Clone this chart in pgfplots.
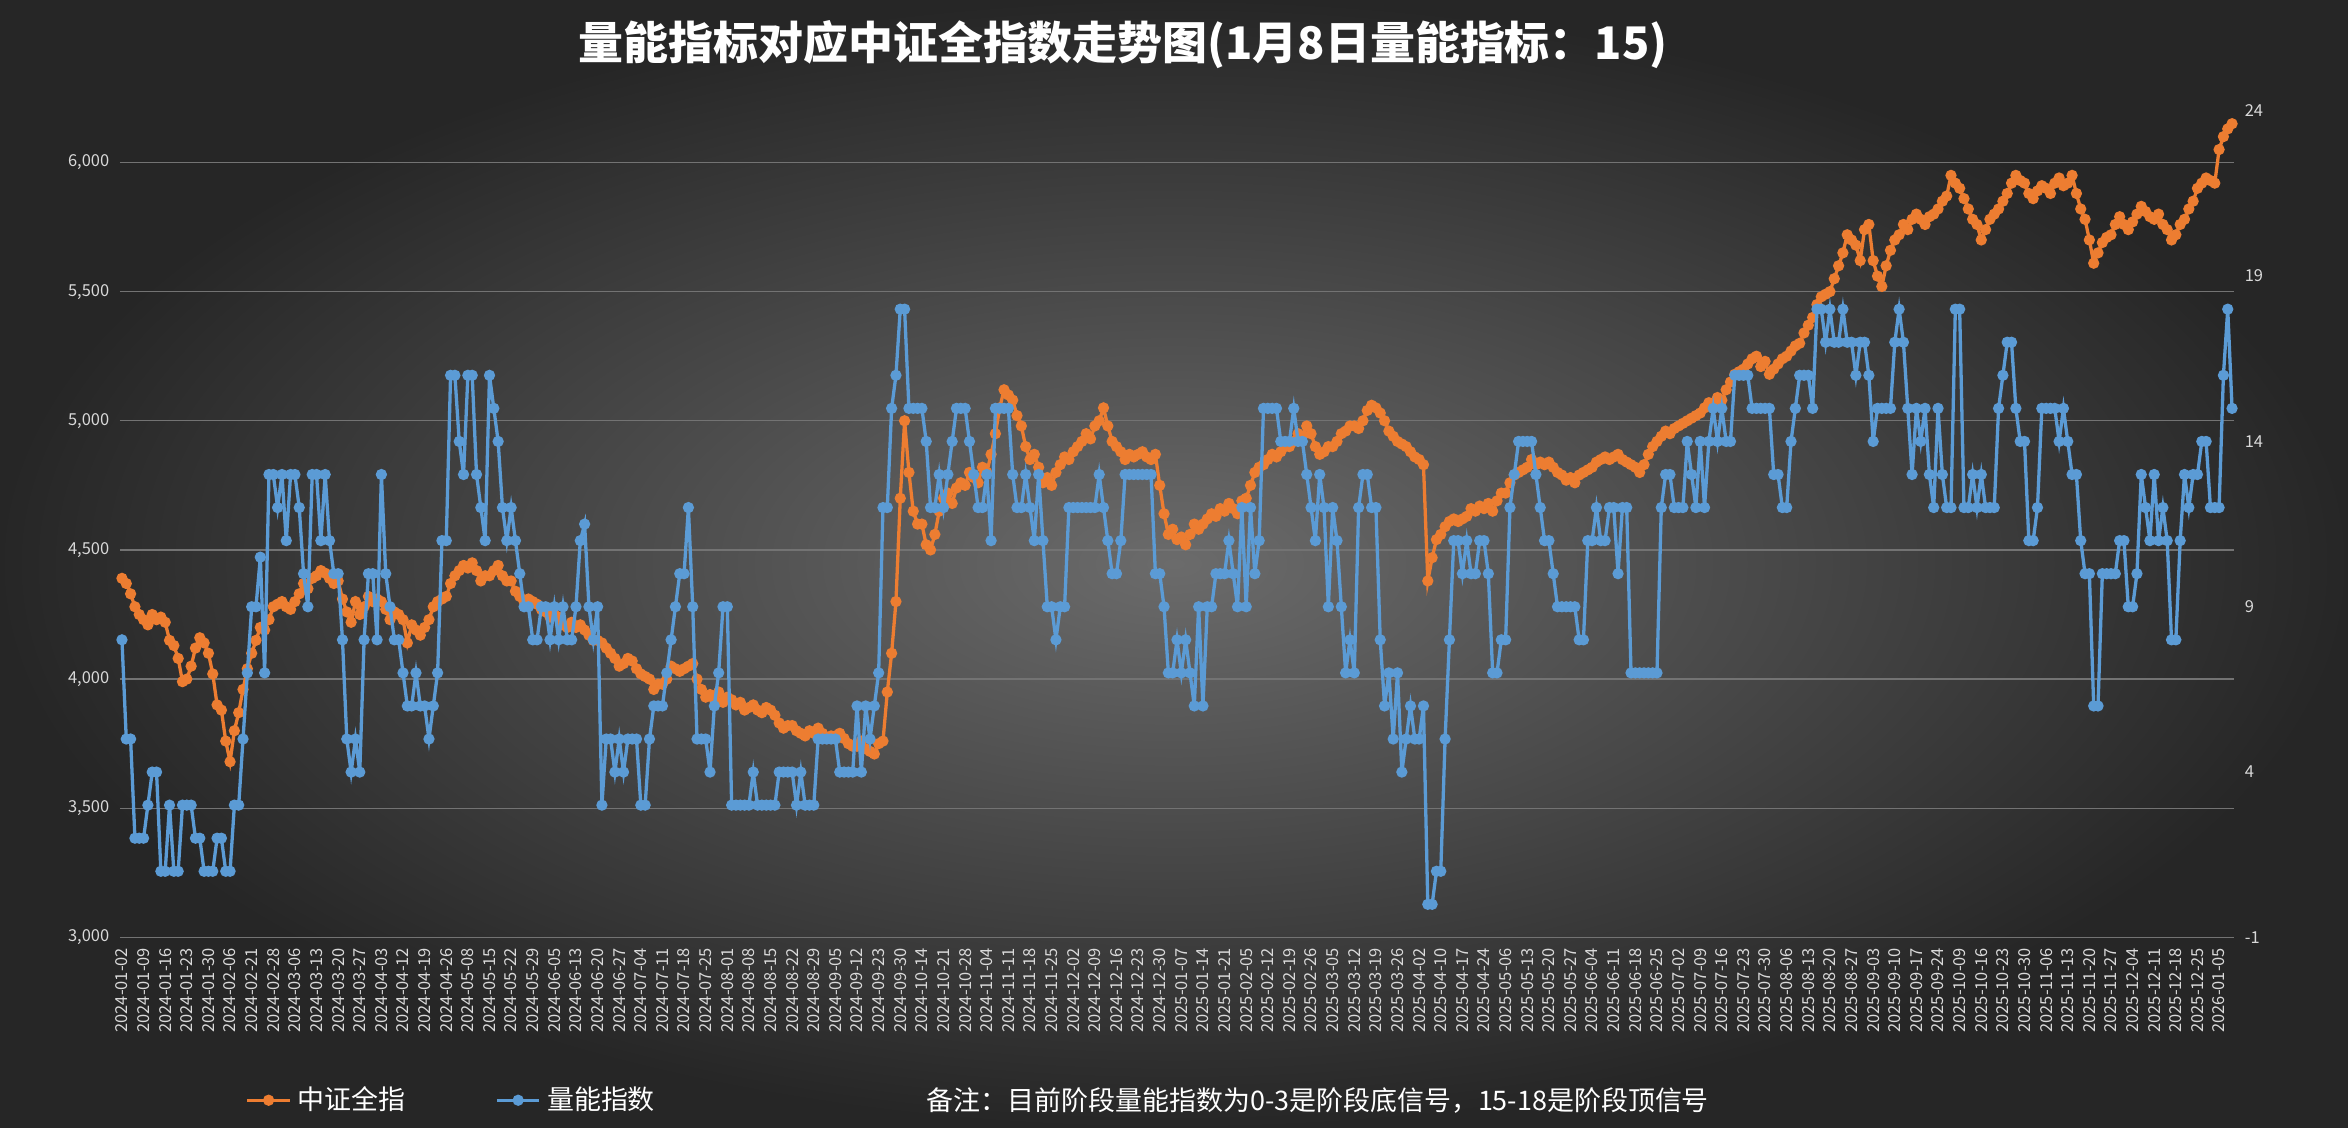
\documentclass[border=0pt]{standalone}
\usepackage{pgfplots}
\pgfplotsset{compat=1.18}
\usepackage{fontspec}
\setmainfont{Noto Sans CJK SC}
\definecolor{org}{HTML}{ED7D31}
\definecolor{blu}{HTML}{5B9BD5}
\definecolor{tk}{HTML}{D9D9D9}
\begin{document}
\begin{tikzpicture}
\shade[inner color=black!58, outer color=black!85] (-40pt,-63.5pt) rectangle (744pt,313pt);
\useasboundingbox (-40pt,-63.5pt) rectangle (744pt,313pt);
\node[text=white,font=\fontsize{15}{18}\selectfont\bfseries] at (335pt,298pt) {量能指标对应中证全指数走势图(1月8日量能指标：15)};
\node[text=white,font=\fontsize{9}{11}\selectfont] at (400pt,-54.5pt) {备注：目前阶段量能指数为0-3是阶段底信号，15-18是阶段顶信号};
\begin{axis}[at={(0,0)},anchor=south west,scale only axis,width=706pt,height=276pt,
 xmin=-0.5,xmax=488.5,ymin=3000,ymax=6200,
 axis line style={draw=none},
 ytick={3000,3500,4000,4500,5000,5500,6000},
 /pgf/number format/1000 sep={,},/pgf/number format/assume math mode=true,
 ymajorgrids, grid style={black!55,line width=0.4pt},
 tick style={draw=none},
 ticklabel style={text=tk,font=\fontsize{5.5}{6}\selectfont},
 xtick={0,5,...,485},
 xticklabels={2024-01-02,2024-01-09,2024-01-16,2024-01-23,2024-01-30,2024-02-06,2024-02-21,2024-02-28,2024-03-06,2024-03-13,2024-03-20,2024-03-27,2024-04-03,2024-04-12,2024-04-19,2024-04-26,2024-05-08,2024-05-15,2024-05-22,2024-05-29,2024-06-05,2024-06-13,2024-06-20,2024-06-27,2024-07-04,2024-07-11,2024-07-18,2024-07-25,2024-08-01,2024-08-08,2024-08-15,2024-08-22,2024-08-29,2024-09-05,2024-09-12,2024-09-23,2024-09-30,2024-10-14,2024-10-21,2024-10-28,2024-11-04,2024-11-11,2024-11-18,2024-11-25,2024-12-02,2024-12-09,2024-12-16,2024-12-23,2024-12-30,2025-01-07,2025-01-14,2025-01-21,2025-02-05,2025-02-12,2025-02-19,2025-02-26,2025-03-05,2025-03-12,2025-03-19,2025-03-26,2025-04-02,2025-04-10,2025-04-17,2025-04-24,2025-05-06,2025-05-13,2025-05-20,2025-05-27,2025-06-04,2025-06-11,2025-06-18,2025-06-25,2025-07-02,2025-07-09,2025-07-16,2025-07-23,2025-07-30,2025-08-06,2025-08-13,2025-08-20,2025-08-27,2025-09-03,2025-09-10,2025-09-17,2025-09-24,2025-10-09,2025-10-16,2025-10-23,2025-10-30,2025-11-06,2025-11-13,2025-11-20,2025-11-27,2025-12-04,2025-12-11,2025-12-18,2025-12-25,2026-01-05},
 xticklabel style={rotate=90,anchor=east},
 legend style={at={(0.055,-0.197)},anchor=west,draw=none,fill=none,text=white,font=\fontsize{9}{11}\selectfont,legend columns=2,/tikz/every even column/.append style={column sep=28pt}},
 legend image code/.code={\draw[#1,mark repeat=2,mark phase=2] plot coordinates {(0cm,0cm) (0.25cm,0cm) (0.5cm,0cm)};},
]
\addplot[org,line width=1.1pt,mark=*,mark size=1.3pt] table[x expr=\coordindex,y index=0,header=false,row sep=\\]{
4390\\4370\\4330\\4280\\4250\\4230\\4210\\4250\\4230\\4240\\4220\\4150\\4130\\4080\\3990\\4000\\4050\\4120\\4160\\4140\\4100\\4020\\3900\\3880\\3760\\3680\\3800\\3870\\3960\\4040\\4100\\4150\\4200\\4190\\4230\\4280\\4290\\4300\\4280\\4270\\4300\\4330\\4370\\4350\\4390\\4400\\4420\\4410\\4390\\4370\\4380\\4310\\4260\\4220\\4300\\4250\\4280\\4320\\4300\\4310\\4300\\4270\\4230\\4260\\4250\\4230\\4140\\4210\\4190\\4170\\4200\\4230\\4280\\4300\\4310\\4320\\4370\\4400\\4420\\4440\\4430\\4450\\4420\\4380\\4400\\4400\\4420\\4440\\4400\\4380\\4380\\4340\\4320\\4300\\4310\\4300\\4290\\4270\\4260\\4240\\4250\\4240\\4210\\4200\\4220\\4200\\4210\\4190\\4170\\4150\\4150\\4140\\4120\\4100\\4080\\4050\\4060\\4080\\4070\\4040\\4020\\4010\\4000\\3960\\3980\\3980\\4000\\4050\\4040\\4030\\4040\\4050\\4060\\4000\\3960\\3930\\3940\\3920\\3950\\3910\\3930\\3920\\3900\\3910\\3880\\3890\\3900\\3880\\3870\\3890\\3880\\3860\\3830\\3810\\3820\\3820\\3800\\3790\\3780\\3800\\3790\\3810\\3790\\3770\\3780\\3780\\3790\\3770\\3750\\3740\\3740\\3760\\3730\\3720\\3710\\3750\\3760\\3950\\4100\\4300\\4700\\5000\\4800\\4650\\4600\\4600\\4520\\4500\\4560\\4650\\4700\\4720\\4680\\4740\\4760\\4750\\4800\\4780\\4760\\4820\\4800\\4870\\4950\\5050\\5120\\5100\\5080\\5020\\4980\\4900\\4850\\4870\\4820\\4760\\4780\\4750\\4800\\4830\\4860\\4850\\4880\\4900\\4920\\4950\\4930\\4980\\5000\\5050\\4980\\4920\\4900\\4880\\4850\\4870\\4860\\4870\\4880\\4860\\4850\\4870\\4750\\4640\\4560\\4580\\4540\\4550\\4520\\4560\\4600\\4580\\4600\\4620\\4640\\4630\\4660\\4650\\4680\\4660\\4640\\4690\\4700\\4750\\4800\\4820\\4830\\4850\\4870\\4860\\4880\\4900\\4900\\4920\\4950\\4940\\4980\\4950\\4900\\4870\\4880\\4900\\4900\\4920\\4950\\4960\\4980\\4980\\4970\\5000\\5040\\5060\\5050\\5030\\5000\\4960\\4940\\4920\\4910\\4900\\4880\\4860\\4850\\4830\\4380\\4470\\4540\\4560\\4590\\4610\\4620\\4610\\4620\\4630\\4660\\4650\\4670\\4660\\4680\\4650\\4690\\4720\\4720\\4760\\4790\\4800\\4810\\4820\\4850\\4830\\4840\\4830\\4840\\4820\\4800\\4790\\4770\\4780\\4760\\4790\\4800\\4810\\4820\\4840\\4850\\4860\\4850\\4860\\4870\\4850\\4840\\4830\\4820\\4800\\4830\\4870\\4900\\4920\\4940\\4960\\4950\\4970\\4980\\4990\\5000\\5010\\5020\\5030\\5050\\5070\\5060\\5090\\5080\\5120\\5150\\5180\\5190\\5200\\5220\\5240\\5250\\5210\\5230\\5180\\5200\\5220\\5240\\5250\\5270\\5290\\5300\\5340\\5370\\5400\\5450\\5480\\5490\\5500\\5550\\5600\\5650\\5720\\5700\\5680\\5620\\5740\\5760\\5620\\5560\\5520\\5600\\5660\\5700\\5720\\5760\\5740\\5780\\5800\\5780\\5760\\5790\\5800\\5820\\5850\\5870\\5950\\5920\\5900\\5860\\5820\\5780\\5760\\5700\\5740\\5780\\5800\\5820\\5850\\5880\\5920\\5950\\5930\\5920\\5880\\5860\\5890\\5910\\5900\\5880\\5920\\5940\\5910\\5920\\5950\\5880\\5820\\5780\\5700\\5610\\5650\\5690\\5710\\5720\\5760\\5790\\5760\\5740\\5770\\5800\\5830\\5810\\5790\\5780\\5800\\5760\\5740\\5700\\5720\\5760\\5780\\5820\\5850\\5900\\5920\\5940\\5930\\5920\\6050\\6100\\6130\\6150\\
};
\addlegendentry{中证全指}
\addlegendimage{blu,line width=1.1pt,mark=*,mark size=1.3pt}
\addlegendentry{量能指数}
\end{axis}
\begin{axis}[at={(0,0)},anchor=south west,scale only axis,width=706pt,height=276pt,
 xmin=-0.5,xmax=488.5,ymin=-1,ymax=24,
 axis x line=none, axis y line*=right, axis line style={draw=none},
 ytick={-1,4,9,14,19,24}, tick style={draw=none},
 /pgf/number format/assume math mode=true,
 ticklabel style={text=tk,font=\fontsize{5.5}{6}\selectfont},
]
\addplot[blu,line width=1.1pt,mark=*,mark size=1.3pt] table[x expr=\coordindex,y index=0,header=false,row sep=\\]{
8\\5\\5\\2\\2\\2\\3\\4\\4\\1\\1\\3\\1\\1\\3\\3\\3\\2\\2\\1\\1\\1\\2\\2\\1\\1\\3\\3\\5\\7\\9\\9\\10.5\\7\\13\\13\\12\\13\\11\\13\\13\\12\\10\\9\\13\\13\\11\\13\\11\\10\\10\\8\\5\\4\\5\\4\\8\\10\\10\\8\\13\\10\\9\\8\\8\\7\\6\\6\\7\\6\\6\\5\\6\\7\\11\\11\\16\\16\\14\\13\\16\\16\\13\\12\\11\\16\\15\\14\\12\\11\\12\\11\\10\\9\\9\\8\\8\\9\\9\\8\\9\\8\\9\\8\\8\\9\\11\\11.5\\9\\8\\9\\3\\5\\5\\4\\5\\4\\5\\5\\5\\3\\3\\5\\6\\6\\6\\7\\8\\9\\10\\10\\12\\9\\5\\5\\5\\4\\6\\7\\9\\9\\3\\3\\3\\3\\3\\4\\3\\3\\3\\3\\3\\4\\4\\4\\4\\3\\4\\3\\3\\3\\5\\5\\5\\5\\5\\4\\4\\4\\4\\6\\4\\6\\5\\6\\7\\12\\12\\15\\16\\18\\18\\15\\15\\15\\15\\14\\12\\12\\13\\12\\13\\14\\15\\15\\15\\14\\13\\12\\12\\13\\11\\15\\15\\15\\15\\13\\12\\12\\13\\12\\11\\13\\11\\9\\9\\8\\9\\9\\12\\12\\12\\12\\12\\12\\12\\13\\12\\11\\10\\10\\11\\13\\13\\13\\13\\13\\13\\13\\10\\10\\9\\7\\7\\8\\7\\8\\7\\6\\9\\6\\9\\9\\10\\10\\10\\11\\10\\9\\12\\9\\12\\10\\11\\15\\15\\15\\15\\14\\14\\14\\15\\14\\14\\13\\12\\11\\13\\12\\9\\12\\11\\9\\7\\8\\7\\12\\13\\13\\12\\12\\8\\6\\7\\5\\7\\4\\5\\6\\5\\5\\6\\0\\0\\1\\1\\5\\8\\11\\11\\10\\11\\10\\10\\11\\11\\10\\7\\7\\8\\8\\12\\13\\14\\14\\14\\14\\13\\12\\11\\11\\10\\9\\9\\9\\9\\9\\8\\8\\11\\11\\12\\11\\11\\12\\12\\10\\12\\12\\7\\7\\7\\7\\7\\7\\7\\12\\13\\13\\12\\12\\12\\14\\13\\12\\14\\12\\14\\15\\14\\15\\14\\14\\16\\16\\16\\16\\15\\15\\15\\15\\15\\13\\13\\12\\12\\14\\15\\16\\16\\16\\15\\18\\18\\17\\18\\17\\17\\18\\17\\17\\16\\17\\17\\16\\14\\15\\15\\15\\15\\17\\18\\17\\15\\13\\15\\14\\15\\13\\12\\15\\13\\12\\12\\18\\18\\12\\12\\13\\12\\13\\12\\12\\12\\15\\16\\17\\17\\15\\14\\14\\11\\11\\12\\15\\15\\15\\15\\14\\15\\14\\13\\13\\11\\10\\10\\6\\6\\10\\10\\10\\10\\11\\11\\9\\9\\10\\13\\12\\11\\13\\11\\12\\11\\8\\8\\11\\13\\12\\13\\13\\14\\14\\12\\12\\12\\16\\18\\15\\
};
\end{axis}
\end{tikzpicture}
\end{document}
